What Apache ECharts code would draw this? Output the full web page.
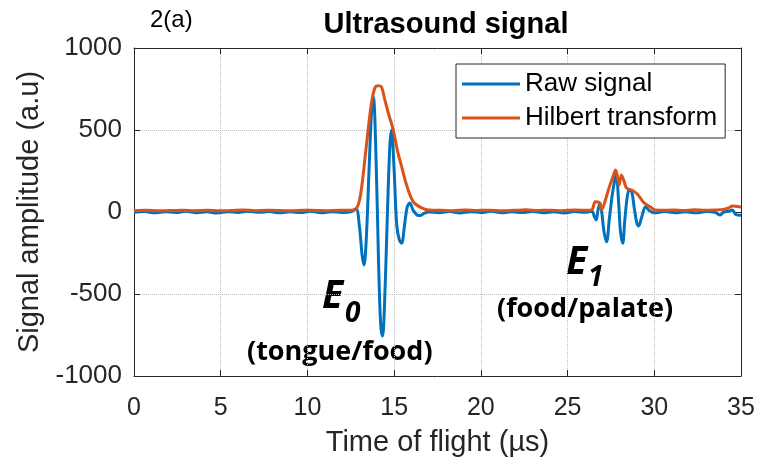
<!DOCTYPE html>
<html>
<head>
<meta charset="utf-8">
<script src="https://cdn.jsdelivr.net/npm/echarts@6/dist/echarts.min.js"></script>
<style>
  html, body { margin: 0; padding: 0; background: #fff; }
  #chart { width: 760px; height: 471px; }
</style>
</head>
<body>
<div id="chart"></div>
<script>
// time of flight (µs) and amplitude (a.u)
const rawTime = [
  0, 0.6, 1.2, 1.8, 2.4, 3, 3.6, 4.2, 4.8, 5.4, 6, 6.6, 7.2, 7.8, 8.4, 9, 9.6, 10.2, 10.8, 11.4, 12, 12.5,
  12.8, 13.0, 13.15, 13.26, 13.4, 13.55, 13.7, 13.8, 13.95, 14.1, 14.22, 14.33, 14.45, 14.6, 14.75, 14.85,
  14.98, 15.15, 15.3, 15.43, 15.6, 15.75, 15.9, 16.1, 16.35, 16.5, 16.7, 17,
  17.6, 18.2, 18.8, 19.4, 20, 20.6, 21.2, 21.8, 22.4, 23, 23.6, 24.2, 24.8, 25.4, 26, 26.4,
  26.55, 26.65, 26.75, 26.87, 26.97, 27.1, 27.25, 27.4, 27.5, 27.6, 27.8, 27.95, 28.05, 28.18, 28.3,
  28.45, 28.56, 28.7, 28.85, 29.0, 29.1, 29.25, 29.5, 29.7, 30,
  30.6, 31.2, 31.8, 32.4, 33, 33.5, 33.8, 34.0, 34.3, 34.5, 34.7, 35
]
const rawAmp = [
  -2, 3, -5, 2, -3, 4, -4, 1, -6, 2, -3, 5, -2, 3, -5, 1, -3, 4, -4, 2, -3, 1,
  20, -90, -260, -323, -150, 250, 620, 700, 350, -300, -680, -756, -550, -50, 400, 500,
  300, -80, -170, -190, -80, 30, 55, 10, -20, -22, -10, 0,
  -4, 3, -6, 2, -3, 4, -5, 1, -3, 3, -4, 2, -6, 3, -2, 5,
  -30, -49, 10, 55, 0, -120, -181, -50, 40, 120, 226, 50, -120, -191, -50,
  100, 134, 124, 20, -70, -85, -40, 32, 10, -5,
  3, -4, 2, -5, 3, -2, -18, 0, 5, 12, -15, -20
]
const hilbertTime = [
  0, 0.7, 1.4, 2.1, 2.8, 3.5, 4.2, 4.9, 5.6, 6.3, 7, 7.7, 8.4, 9.1, 9.8, 10.5, 11.2, 11.9, 12.5,
  12.7, 12.85, 13.0, 13.15, 13.3, 13.5, 13.7, 13.9, 14.05, 14.25, 14.45, 14.7, 14.95, 15.2, 15.4,
  15.73, 16.1, 16.5, 17,
  17.7, 18.4, 19.1, 19.8, 20.5, 21.2, 21.9, 22.6, 23.3, 24, 24.7, 25.4, 26.1, 26.4,
  26.6, 26.8, 26.97, 27.2, 27.4, 27.6, 27.77, 27.9, 27.98, 28.1, 28.25, 28.4, 28.7, 28.9, 29.07,
  29.35, 29.55, 29.76, 30.05, 30.5,
  31.1, 31.7, 32.3, 32.9, 33.5, 34.0, 34.3, 34.5, 34.8, 35
]
const hilbertAmp = [
  8, 10, 7, 9, 11, 8, 10, 7, 9, 12, 8, 10, 9, 7, 11, 9, 8, 10, 10,
  12, 25, 70, 170, 310, 500, 670, 760, 770, 765, 690, 590, 500, 370, 290,
  160, 63, 30, 12,
  10, 8, 12, 9, 11, 8, 10, 13, 9, 11, 8, 12, 10, 14,
  63, 60, 15, 80, 150, 210, 256, 200, 165, 226, 190, 146, 134, 120, 104,
  63, 45, 32, 12, 10,
  12, 9, 13, 10, 12, 16, 25, 37, 33, 30
]
const xTicks = { min: 0, max: 35, step: 5 }
const yTicks = { min: -1000, max: 1000, step: 500 }

const zip = (xs, ys) => xs.map((x, i) => [x, ys[i]])

const AXIS_COLOR = '#262626'
const FONT = 'Liberation Sans'
const ANNOT_FONT = 'Open Sans'

const chart = echarts.init(document.getElementById('chart'))

function boxAxis(extra) {
  return Object.assign({
    type: 'value',
    axisLine: { show: true, onZero: false, lineStyle: { color: AXIS_COLOR, width: 1 } },
    axisTick: { show: true, inside: true, length: 6, lineStyle: { color: AXIS_COLOR } },
    axisLabel: { show: false },
    splitLine: { show: false }
  }, extra)
}

// bold annotation text, E with subscripts
function annot(text, left, top, size, italic) {
  return {
    type: 'text', left, top,
    style: {
      text, fontFamily: ANNOT_FONT, fontSize: size, fontWeight: 'bold',
      fontStyle: italic ? 'italic' : 'normal', fill: '#000'
    }
  }
}

chart.setOption({
  animation: false,
  title: {
    text: 'Ultrasound signal',
    left: 441, top: 5, textAlign: 'center',
    textStyle: { fontFamily: FONT, fontSize: 29, fontWeight: 'bold', color: '#000' }
  },
  grid: { left: 134, right: 19, top: 48, bottom: 95 },
  legend: {
    orient: 'vertical',
    left: 456, top: 64,
    padding: [7, 8, 7, 6],
    icon: 'rect',
    itemWidth: 58, itemHeight: 3, itemGap: 8,
    backgroundColor: '#fff',
    borderColor: AXIS_COLOR, borderWidth: 1,
    textStyle: { fontFamily: FONT, fontSize: 26, color: '#000', lineHeight: 26 },
    data: ['Raw signal', 'Hilbert transform']
  },
  xAxis: [
    boxAxis({
      min: xTicks.min, max: xTicks.max, interval: xTicks.step,
      name: 'Time of flight (µs)', nameLocation: 'middle', nameGap: 52,
      nameTextStyle: { fontFamily: FONT, fontSize: 29, color: AXIS_COLOR },
      axisLabel: { show: true, fontFamily: FONT, fontSize: 25, color: AXIS_COLOR, margin: 20 },
      splitLine: { show: true, lineStyle: { color: '#bdbdbd', type: 'dotted', width: 1 } }
    }),
    boxAxis({ position: 'top', min: xTicks.min, max: xTicks.max, interval: xTicks.step })
  ],
  yAxis: [
    boxAxis({
      min: yTicks.min, max: yTicks.max, interval: yTicks.step,
      name: 'Signal amplitude (a.u)', nameLocation: 'middle', nameGap: 88,
      nameTextStyle: { fontFamily: FONT, fontSize: 29, color: AXIS_COLOR },
      axisLabel: {
        show: true, fontFamily: FONT, fontSize: 26, color: AXIS_COLOR, margin: 12,
        formatter: v => String(v)
      },
      splitLine: { show: true, lineStyle: { color: '#bdbdbd', type: 'dotted', width: 1 } }
    }),
    boxAxis({ position: 'right', min: yTicks.min, max: yTicks.max, interval: yTicks.step })
  ],
  series: [
    {
      name: 'Raw signal', type: 'line', data: zip(rawTime, rawAmp),
      symbol: 'none', smooth: 0.35,
      lineStyle: { color: '#0072BD', width: 3 }, itemStyle: { color: '#0072BD' }
    },
    {
      name: 'Hilbert transform', type: 'line', data: zip(hilbertTime, hilbertAmp),
      symbol: 'none', smooth: 0.35,
      lineStyle: { color: '#D95319', width: 3 }, itemStyle: { color: '#D95319' }
    }
  ],
  graphic: [
    { type: 'text', left: 150, top: 8, style: { text: '2(a)', fontFamily: FONT, fontSize: 24, fill: '#000' } },
    annot('E', 322, 277, 39, true),
    annot('0', 345, 300, 28, true),
    annot('(tongue/food)', 247, 339, 27, false),
    annot('E', 566, 243, 39, true),
    annot('1', 588, 264, 28, true),
    annot('(food/palate)', 497, 296, 27, false)
  ]
})
</script>
</body>
</html>
